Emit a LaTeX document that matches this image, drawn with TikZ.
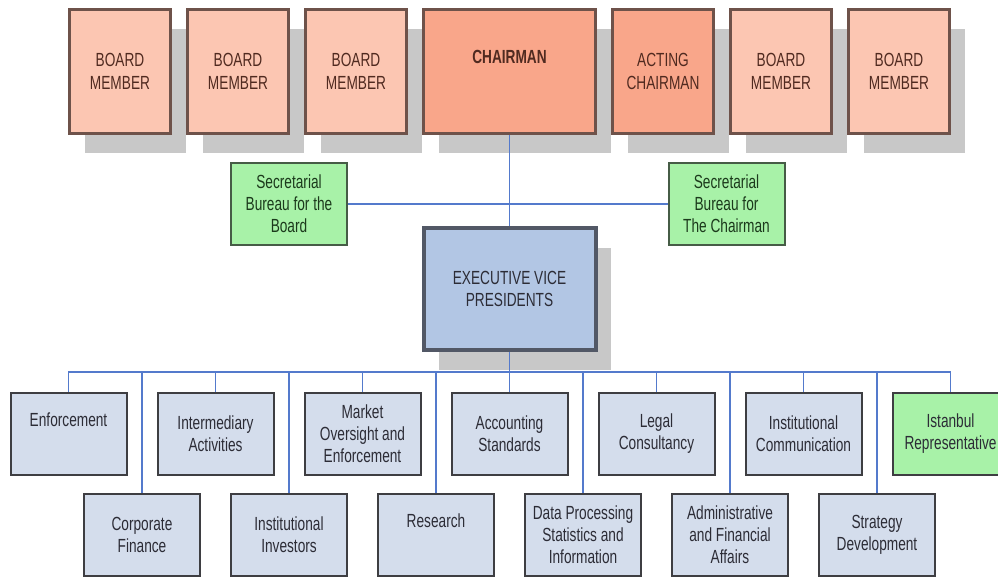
\documentclass[tikz,border=0pt]{standalone}
\usepackage{fontspec}
\setmainfont[FakeStretch=0.72]{Liberation Sans}
\usetikzlibrary{positioning,shadows}
\definecolor{memberfill}{RGB}{252,198,178}
\definecolor{chairfill}{RGB}{249,166,138}
\definecolor{boardline}{RGB}{110,82,74}
\definecolor{boardtext}{RGB}{80,42,32}
\definecolor{shadowgray}{RGB}{200,200,200}
\definecolor{secfill}{RGB}{168,242,168}
\definecolor{secline}{RGB}{70,92,70}
\definecolor{sectext}{RGB}{28,58,28}
\definecolor{evpfill}{RGB}{178,198,228}
\definecolor{evpline}{RGB}{82,88,102}
\definecolor{unitfill}{RGB}{212,221,236}
\definecolor{unitline}{RGB}{62,62,66}
\definecolor{unittext}{RGB}{44,44,54}
\definecolor{linkblue}{RGB}{84,122,204}
\tikzset{every picture/.style={
  >=latex                       % plain LaTeX tips
  }
}

\begin{document}
\begin{tikzpicture}[x=1pt,y=-1pt,
        board/.style={
          rectangle,
          draw=boardline,
          line width=3pt,
          fill=memberfill,
          minimum width=101pt,
          minimum height=124pt,
          align=center,
          text=boardtext,
          font=\fontsize{19}{23}\selectfont,
          drop shadow={shadow xshift=15pt,shadow yshift=-20pt,
            fill=shadowgray,opacity=1},
        },
        chair/.style={fill=chairfill},
        bureau/.style={
          rectangle,
          draw=secline,
          line width=2pt,
          fill=secfill,
          minimum width=116pt,
          minimum height=82pt,
          align=center,
          text=sectext,
          font=\fontsize{19}{22}\selectfont,
        },
        evp/.style={
          rectangle,
          draw=evpline,
          line width=4pt,
          fill=evpfill,
          minimum width=172pt,
          minimum height=122pt,
          align=center,
          text=unittext,
          font=\fontsize{19}{22}\selectfont,
          drop shadow={shadow xshift=15pt,shadow yshift=-20pt,
            fill=shadowgray,opacity=1},
        },
        unit/.style={
          rectangle,
          draw=unitline,
          line width=2pt,
          fill=unitfill,
          minimum width=116pt,
          minimum height=82pt,
          align=center,
          text=unittext,
          font=\fontsize{19}{22}\selectfont,
        },
        link/.style={draw=linkblue,line width=1.5pt},
      ]
      \useasboundingbox (0,0) rectangle (998,577);
      % board row
      \node[board] (member1) at (120,71.5) {BOARD\\MEMBER};
      \node[board] (member2) [right=14pt of member1] {BOARD\\MEMBER};
      \node[board] (member3) [right=14pt of member2] {BOARD\\MEMBER};
      \node[board,chair,minimum width=172pt] (chairman) [right=14pt of member3] {%
        \textbf{CHAIRMAN}\\\strut};
      \node[board,chair] (acting) [right=14pt of chairman] {ACTING\\CHAIRMAN};
      \node[board] (member4) [right=14pt of acting] {BOARD\\MEMBER};
      \node[board] (member5) [right=14pt of member4] {BOARD\\MEMBER};
      % bureaus and vice presidents
      \node[bureau] (boardbureau) at (289,204) {Secretarial\\Bureau for the\\Board};
      \node[bureau] (chairbureau) at (726.5,204) {Secretarial\\Bureau for\\The Chairman};
      \node[evp] (vicepres) [below=91pt of chairman] {EXECUTIVE VICE\\PRESIDENTS};
      \coordinate[below=20pt of vicepres] (bus);
      % departments, upper line
      \node[unit] (enforce) at (68.5,434) {Enforcement\\\strut};
      \node[unit] (intermed) [right=29pt of enforce] {Intermediary\\Activities};
      \node[unit] (oversight) [right=29pt of intermed] {Market\\Oversight and\\Enforcement};
      \node[unit] (accounting) [right=29pt of oversight] {Accounting\\Standards};
      \node[unit] (legal) [right=29pt of accounting] {Legal\\Consultancy};
      \node[unit] (communic) [right=29pt of legal] {Institutional\\Communication};
      \node[unit,fill=secfill] (istanbul) [right=29pt of communic] {Istanbul\\Representative};
      % departments, lower line
      \node[unit] (corporate) at (142,535) {Corporate\\Finance};
      \node[unit] (investors) [right=29pt of corporate] {Institutional\\Investors};
      \node[unit] (research) [right=29pt of investors] {Research\\\strut};
      \node[unit] (dataproc) [right=29pt of research] {Data Processing\\Statistics and\\Information};
      \node[unit] (adminfin) [right=29pt of dataproc] {Administrative\\and Financial\\Affairs};
      \node[unit] (strategy) [right=29pt of adminfin] {Strategy\\Development};
      % connectors
      \draw[link] (chairman) -- (vicepres);
      \draw[link] (boardbureau.east) -- (chairbureau.west);
      \draw[link] (vicepres) -- (bus);
      \draw[link] (bus) -| (enforce);
      \draw[link] (bus) -| (intermed);
      \draw[link] (bus) -| (oversight);
      \draw[link] (bus) -| (accounting);
      \draw[link] (bus) -| (legal);
      \draw[link] (bus) -| (communic);
      \draw[link] (bus) -| (istanbul);
      \draw[link] (bus) -| (corporate);
      \draw[link] (bus) -| (investors);
      \draw[link] (bus) -| (research);
      \draw[link] (bus) -| (dataproc);
      \draw[link] (bus) -| (adminfin);
      \draw[link] (bus) -| (strategy);
      \end{tikzpicture}
\end{document}
